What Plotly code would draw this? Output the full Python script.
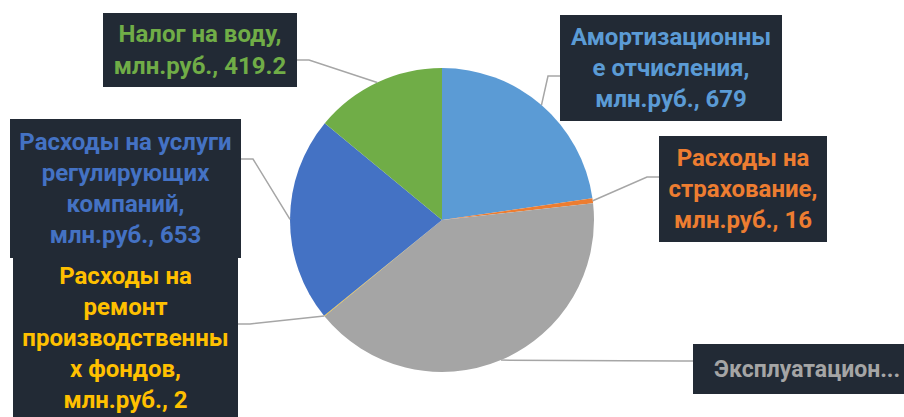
import math
import plotly.graph_objects as go

# ---- data ----
categories = [
    "Амортизационные отчисления",
    "Расходы на страхование",
    "Эксплуатационные расходы",
    "Расходы на ремонт производственных фондов",
    "Расходы на услуги регулирующих компаний",
    "Налог на воду",
]
values = [679, 16, 1221, 2, 653, 419.2]
label_texts = [
    "Амортизационны<br>е отчисления,<br>млн.руб., 679",
    "Расходы на<br>страхование,<br>млн.руб., 16",
    "Эксплуатацион...",
    "Расходы на<br>ремонт<br>производственны<br>х фондов,<br>млн.руб., 2",
    "Расходы на услуги<br>регулирующих<br>компаний,<br>млн.руб., 653",
    "Налог на воду,<br>млн.руб., 419.2",
]
colors = ["#5B9BD5", "#ED7D31", "#A5A5A5", "#FFC000", "#4472C4", "#70AD47"]

# ---- layout constants (pixels) ----
W, H = 904, 417
CX, CY, R = 442, 220, 152
# label boxes: left, top, width, height, anchor side, anchor y, text align
boxes = [
    (560, 15, 222, 106, "left", 76, "center"),
    (659, 136, 168, 106, "left", 177, "center"),
    (693, 344, 215, 50, "left", 361, "left"),
    (13, 258, 225, 160, "right", 324, "center"),
    (10, 119, 231, 139, "right", 159, "center"),
    (103, 13, 194, 74, "right", 60, "center"),
]
BOX_BG = "#222A35"
LINE_COLOR = "#A6A6A6"
FONT = "Roboto"
FONT_SIZE = 24

def px_x(x):
    return x / W

def px_y(y):
    return 1 - y / H

fig = go.Figure()
fig.add_trace(go.Pie(
    labels=categories,
    values=values,
    sort=False,
    direction="clockwise",
    rotation=0,
    marker=dict(colors=colors, line=dict(width=0)),
    textinfo="none",
    hoverinfo="label+value",
    showlegend=False,
    domain=dict(x=[px_x(CX - R), px_x(CX + R)], y=[px_y(CY + R), px_y(CY - R)]),
))

total = sum(values)
cum = 0.0
annotations = []
shapes = []
for v, txt, col, (bx, by, bw, bh, side, ay, align) in zip(values, label_texts, colors, boxes):
    mid = (cum + v / 2) / total * 2 * math.pi
    cum += v
    ex = CX + R * math.sin(mid)
    ey = CY - R * math.cos(mid)
    if side == "left":
        axp = bx
        elb = bx - 12
    else:
        axp = bx + bw
        elb = axp + 12
    path = f"M {px_x(ex)},{px_y(ey)} L {px_x(elb)},{px_y(ay)} L {px_x(axp)},{px_y(ay)}"
    shapes.append(dict(type="path", xref="paper", yref="paper", path=path,
                       line=dict(color=LINE_COLOR, width=1.5)))
    bold = "<b>" + txt.replace("<br>", "</b><br><b>") + "</b>"
    if align == "center":
        annotations.append(dict(
            x=px_x(bx), y=px_y(by), xref="paper", yref="paper",
            xanchor="left", yanchor="top",
            width=bw, height=bh, text=bold, showarrow=False,
            align="center", valign="middle",
            bgcolor=BOX_BG, borderpad=0, borderwidth=0,
            font=dict(family=FONT, size=FONT_SIZE, color=col),
        ))
    else:
        shapes.append(dict(type="rect", xref="paper", yref="paper",
                           x0=px_x(bx), x1=px_x(bx + bw), y0=px_y(by + bh), y1=px_y(by),
                           fillcolor=BOX_BG, line=dict(width=0)))
        annotations.append(dict(
            x=px_x(bx + 19), y=px_y(by + bh / 2), xref="paper", yref="paper",
            xanchor="left", yanchor="middle", text=bold, showarrow=False,
            font=dict(family=FONT, size=FONT_SIZE - 1, color=col),
        ))

fig.update_layout(
    width=W, height=H,
    margin=dict(l=0, r=0, t=0, b=0),
    paper_bgcolor="white",
    plot_bgcolor="white",
    shapes=shapes,
    annotations=annotations,
)

fig.write_html(
    "out.html",
    config={"displayModeBar": False},
    post_script="document.body.style.margin='0';document.body.style.overflow='hidden';",
)
